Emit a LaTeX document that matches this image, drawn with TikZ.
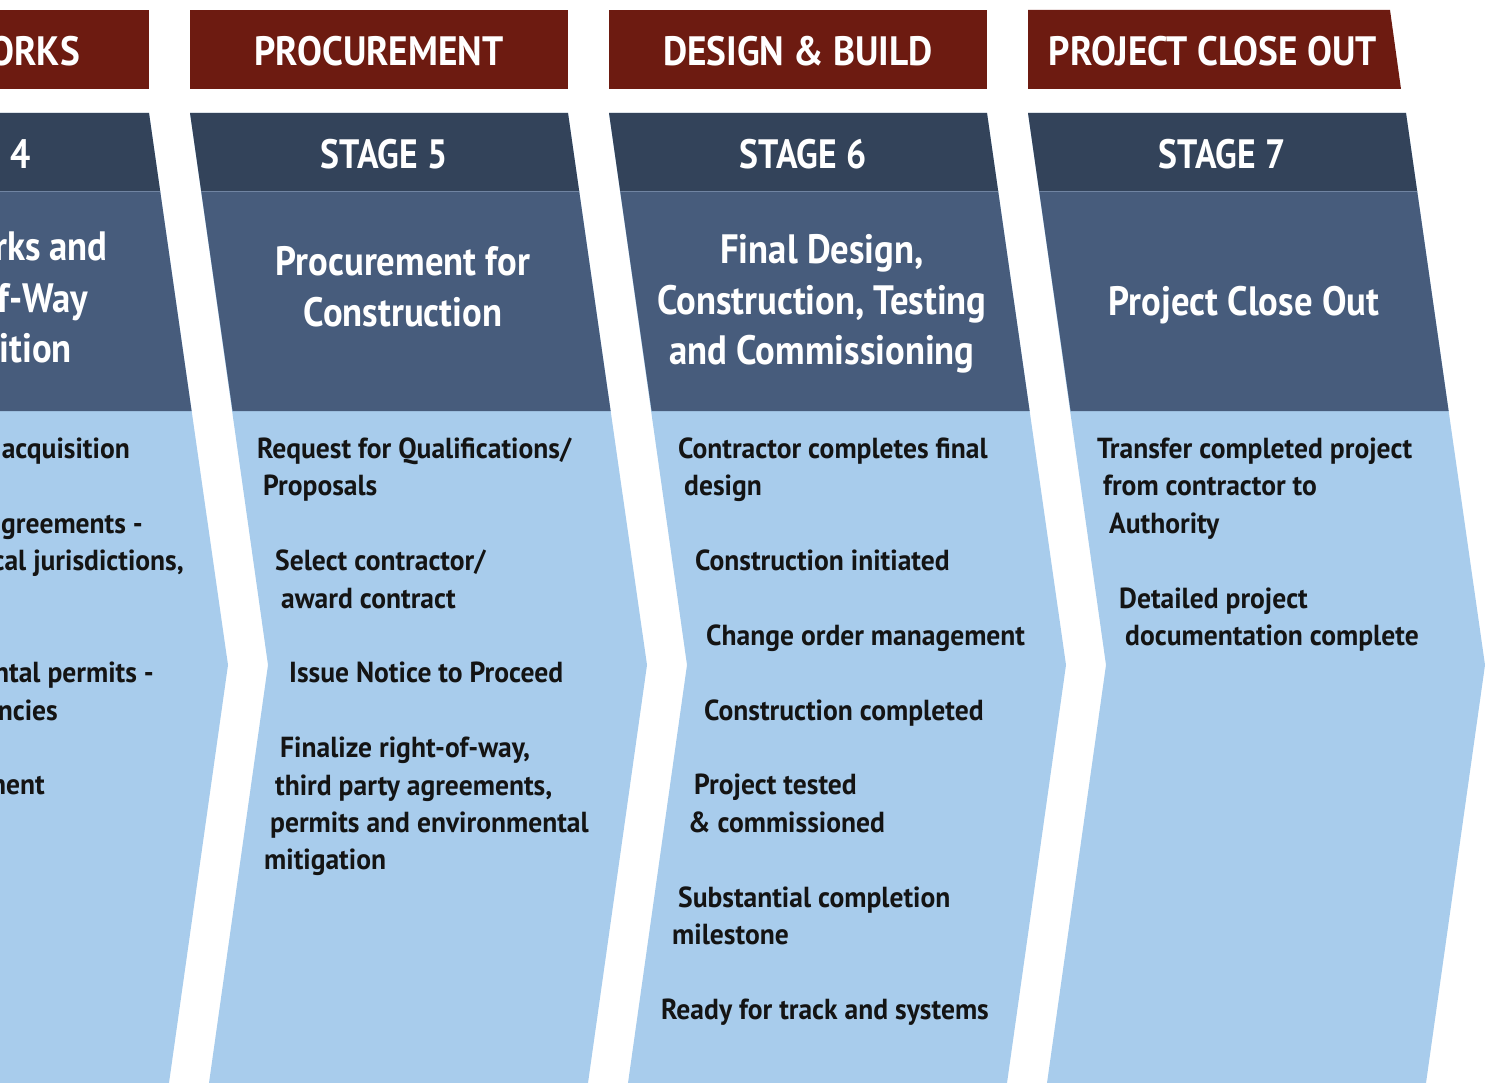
\documentclass[tikz,border=0pt]{standalone}
\usepackage{fontspec}
\setmainfont{PT Sans}
\newfontfamily\phasefont{PT Sans}[FakeStretch=0.91]
\newfontfamily\stagefont{PT Sans}[FakeStretch=0.87]
\newfontfamily\titlefont{PT Sans}[FakeStretch=0.895]
\newfontfamily\itemfont{PT Sans}[FakeStretch=0.95]
\usepackage{xcolor}
\usepackage{tikz}
\definecolor{phasered}{RGB}{109,27,17}
\definecolor{stagedark}{RGB}{51,67,90}
\definecolor{titleblue}{RGB}{71,92,124}
\definecolor{bodyblue}{RGB}{168,204,236}
\definecolor{bandline}{RGB}{112,132,162}
\definecolor{bodytext}{RGB}{20,20,20}
\tikzset{
  phbox/.style ={fill=phasered},
  stbox/.style ={fill=stagedark},
  tibox/.style ={fill=titleblue},
  bdbox/.style ={fill=bodyblue},
  sep/.style   ={draw=bandline, line width=1pt},
  phlab/.style ={font=\phasefont\fontsize{41}{48}\selectfont\bfseries, text=white, inner sep=0pt, anchor=base},
  stlab/.style ={font=\stagefont\fontsize{41}{48}\selectfont\bfseries, text=white, inner sep=0pt, anchor=base},
  tilab/.style ={font=\titlefont\fontsize{41}{50}\selectfont\bfseries, text=white, inner sep=0pt, anchor=base},
  itm/.style   ={font=\itemfont\fontsize{29}{37}\selectfont\bfseries, text=bodytext, inner sep=0pt, anchor=base west},
}

\begin{document}
\begin{tikzpicture}[x=1pt,y=-1pt]
  \useasboundingbox (0,0) rectangle (1485,1083);
  \clip (0,0) rectangle (1485,1083);
  % phase headers
  \fill[phbox] (0,10) rectangle (149,89);
  \fill[phbox] (190,10) rectangle (568,89);
  \fill[phbox] (609,10) rectangle (987,89);
  \fill[phbox] (1028,10) -- (1390,10) -- (1401,89) -- (1028,89) -- cycle;
  \node[phlab,anchor=base east] (ph4) at (80,66) {ORKS};
  \node[phlab] (ph5) at (379,66) {PROCUREMENT};
  \node[phlab] (ph6) at (798,66) {DESIGN \& BUILD};
  \node[phlab] (ph7) at (1213,66) {PROJECT CLOSE OUT};
  % stage 4
  \fill[bdbox] (-229,113) -- (149,113) -- (228,665) -- (169,1083) -- (-210,1083) -- (-151,665) -- cycle;
  \fill[stbox] (-229,113) -- (149,113) -- (160.3,192) -- (-217.7,192) -- cycle;
  \fill[tibox] (-217.7,192) -- (160.3,192) -- (191.6,411) -- (-186.4,411) -- cycle;
  \draw[sep] (-217.7,192) -- (160.3,192);
  % stage 5
  \fill[bdbox] (190,113) -- (568,113) -- (647,665) -- (588,1083) -- (209,1083) -- (268,665) -- cycle;
  \fill[stbox] (190,113) -- (568,113) -- (579.3,192) -- (201.3,192) -- cycle;
  \fill[tibox] (201.3,192) -- (579.3,192) -- (610.6,411) -- (232.6,411) -- cycle;
  \draw[sep] (201.3,192) -- (579.3,192);
  % stage 6
  \fill[bdbox] (609,113) -- (987,113) -- (1066,665) -- (1007,1083) -- (628,1083) -- (687,665) -- cycle;
  \fill[stbox] (609,113) -- (987,113) -- (998.3,192) -- (620.3,192) -- cycle;
  \fill[tibox] (620.3,192) -- (998.3,192) -- (1029.6,411) -- (651.6,411) -- cycle;
  \draw[sep] (620.3,192) -- (998.3,192);
  % stage 7
  \fill[bdbox] (1028,113) -- (1406,113) -- (1485,665) -- (1426,1083) -- (1047,1083) -- (1106,665) -- cycle;
  \fill[stbox] (1028,113) -- (1406,113) -- (1417.3,192) -- (1039.3,192) -- cycle;
  \fill[tibox] (1039.3,192) -- (1417.3,192) -- (1448.6,411) -- (1070.6,411) -- cycle;
  \draw[sep] (1039.3,192) -- (1417.3,192);
  % stage labels
  \node[stlab,anchor=base east] (st4) at (31,169) {E 4};
  \node[stlab] (st5) at (384,169) {STAGE 5};
  \node[stlab] (st6) at (803,169) {STAGE 6};
  \node[stlab] (st7) at (1222,169) {STAGE 7};
  % stage titles
  \node[tilab,anchor=base east] (ti4a) at (108,261) {rks and};
  \node[tilab,anchor=base east] (ti4b) at (88,312) {f-Way};
  \node[tilab,anchor=base east] (ti4c) at (72,362) {ition};
  \node[tilab] (ti5a) at (403,276) {Procurement for};
  \node[tilab] (ti5b) at (403,326) {Construction};
  \node[tilab] (ti6a) at (822,264) {Final Design,};
  \node[tilab] (ti6b) at (822,314) {Construction, Testing};
  \node[tilab] (ti6c) at (822,364) {and Commissioning};
  \node[tilab] (ti7a) at (1244,315) {Project Close Out};
  % stage 4 items
  \node[itm,anchor=base east] (it4a) at (130,458) {acquisition};
  \node[itm,anchor=base east] (it4b) at (143,533) {greements -};
  \node[itm,anchor=base east] (it4c) at (184,570) {cal jurisdictions,};
  \node[itm,anchor=base east] (it4d) at (154,682) {ntal permits -};
  \node[itm,anchor=base east] (it4e) at (58,720) {ncies};
  \node[itm,anchor=base east] (it4f) at (45,794) {nent};
  % stage 5 items
  \node[itm] (it5a) at (257,458) {Request for Qualifications/};
  \node[itm] (it5b) at (263,495) {Proposals};
  \node[itm] (it5c) at (275,570) {Select contractor/};
  \node[itm] (it5d) at (281,608) {award contract};
  \node[itm] (it5e) at (289,682) {Issue Notice to Proceed};
  \node[itm] (it5f) at (280,757) {Finalize right-of-way,};
  \node[itm] (it5g) at (275,795) {third party agreements,};
  \node[itm] (it5h) at (270,832) {permits and environmental};
  \node[itm] (it5i) at (264,869) {mitigation};
  % stage 6 items
  \node[itm] (it6a) at (678,458) {Contractor completes final};
  \node[itm] (it6b) at (684,495) {design};
  \node[itm] (it6c) at (695,570) {Construction initiated};
  \node[itm] (it6d) at (706,645) {Change order management};
  \node[itm] (it6e) at (704,720) {Construction completed};
  \node[itm] (it6f) at (694,794) {Project tested};
  \node[itm] (it6g) at (688,832) {\& commissioned};
  \node[itm] (it6h) at (678,907) {Substantial completion};
  \node[itm] (it6i) at (672,944) {milestone};
  \node[itm] (it6j) at (661,1019) {Ready for track and systems};
  % stage 7 items
  \node[itm] (it7a) at (1097,458) {Transfer completed project};
  \node[itm] (it7b) at (1103,495) {from contractor to};
  \node[itm] (it7c) at (1109,533) {Authority};
  \node[itm] (it7d) at (1119,608) {Detailed project};
  \node[itm] (it7e) at (1125,645) {documentation complete};
\end{tikzpicture}
\end{document}
